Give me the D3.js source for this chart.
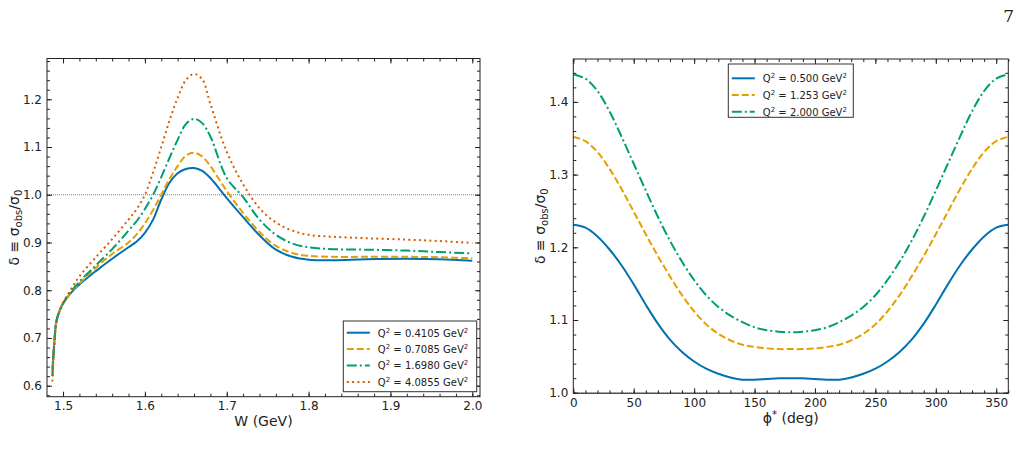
<!DOCTYPE html>
<html>
<head>
<meta charset="utf-8">
<script src="https://cdn.jsdelivr.net/npm/d3@7"></script>
<style>
body { margin: 0; background: #fff; }
text { font-family: "DejaVu Sans", sans-serif; fill: #222; }
</style>
</head>
<body>
<svg width="1021" height="467"></svg>
<script>
// ---- left panel: delta vs W ----
var wGrid = [1.487, 1.489, 1.492, 1.496, 1.50, 1.51, 1.52, 1.54, 1.56, 1.58, 1.59, 1.60, 1.61, 1.62, 1.63, 1.64, 1.65,
    1.66, 1.67, 1.68, 1.70, 1.72, 1.74, 1.76, 1.78, 1.80, 1.83, 1.87, 1.92, 1.96, 2.00];
var deltaQ04105 = [0.635, 0.685, 0.737, 0.758, 0.772, 0.795, 0.812, 0.84, 0.866, 0.89, 0.902, 0.92, 0.948, 0.99, 1.025, 1.045, 1.054,
    1.056, 1.050, 1.035, 0.993, 0.953, 0.915, 0.885, 0.870, 0.864, 0.863, 0.865, 0.866, 0.865, 0.862];
var deltaQ07085 = [0.62, 0.68, 0.735, 0.757, 0.772, 0.796, 0.814, 0.847, 0.876, 0.90, 0.917, 0.94, 0.968, 1.0, 1.033, 1.06, 1.082,
    1.088, 1.08, 1.06, 1.008, 0.962, 0.922, 0.893, 0.878, 0.872, 0.870, 0.870, 0.870, 0.869, 0.867];
var deltaQ16980 = [0.62, 0.68, 0.735, 0.758, 0.773, 0.798, 0.818, 0.852, 0.886, 0.925, 0.945, 0.97, 1.0, 1.037, 1.077, 1.115, 1.148,
    1.159, 1.15, 1.122, 1.035, 0.995, 0.948, 0.916, 0.898, 0.890, 0.886, 0.885, 0.883, 0.880, 0.877];
var deltaQ40855 = [0.609, 0.675, 0.733, 0.758, 0.774, 0.803, 0.829, 0.869, 0.907, 0.948, 0.97, 1.0, 1.047, 1.10, 1.155, 1.203, 1.24,
    1.253, 1.242, 1.19, 1.09, 1.022, 0.972, 0.942, 0.925, 0.916, 0.912, 0.909, 0.906, 0.903, 0.899];
var leftLabels = ["0.4105", "0.7085", "1.6980", "4.0855"];

// ---- right panel: delta vs phi* ----
var phiGrid = [0, 10, 20, 30, 40, 50, 60, 70, 80, 90, 100, 110, 120, 130, 140, 150, 160, 170, 180,
    190, 200, 210, 220, 230, 240, 250, 260, 270, 280, 290, 300, 310, 320, 330, 340, 350, 360];
var deltaQ0500 = [1.231, 1.227, 1.215, 1.197, 1.175, 1.149, 1.121, 1.095, 1.073, 1.056, 1.043, 1.033, 1.026, 1.021,
    1.018, 1.018, 1.019, 1.020, 1.020, 1.020, 1.019, 1.018, 1.018, 1.021, 1.026, 1.033, 1.043, 1.056, 1.073,
    1.095, 1.121, 1.149, 1.175, 1.197, 1.215, 1.227, 1.231];
var deltaQ1253 = [1.352, 1.346, 1.331, 1.308, 1.280, 1.249, 1.218, 1.188, 1.160, 1.134, 1.112, 1.094, 1.081, 1.072,
    1.066, 1.063, 1.061, 1.060, 1.060, 1.060, 1.061, 1.063, 1.066, 1.072, 1.081, 1.094, 1.112, 1.134, 1.160,
    1.188, 1.218, 1.249, 1.280, 1.308, 1.331, 1.346, 1.352];
var deltaQ2000 = [1.438, 1.432, 1.415, 1.387, 1.352, 1.315, 1.278, 1.242, 1.209, 1.180, 1.155, 1.134, 1.118, 1.106,
    1.097, 1.090, 1.086, 1.084, 1.083, 1.084, 1.086, 1.090, 1.097, 1.106, 1.118, 1.134, 1.155, 1.180, 1.209,
    1.242, 1.278, 1.315, 1.352, 1.387, 1.415, 1.432, 1.438];
var rightLabels = ["0.500", "1.253", "2.000"];

var colors = ["#0072B2", "#E69F00", "#009E73", "#D55E00"];
var dashes = [null, "7,3", "10,3,2,3", "2,3.3"];

var svg = d3.select("svg");

// page number
svg.append("text")
    .attr("x", 1014).attr("y", 22)
    .attr("text-anchor", "end")
    .style("font-family", "'DejaVu Serif', 'Liberation Serif', serif")
    .attr("font-size", 17)
    .text("7");

function addTspans(t, parts) {
    parts.forEach(function (p) {
        t.append("tspan")
            .attr("dy", p.dy || 0)
            .attr("font-size", p.fs || null)
            .text(p.t);
    });
}

function drawAxes(g, x, y, opt) {
    var w = x.range()[1], h = y.range()[0];

    function styleAxis(sel) {
        sel.select(".domain").remove();
        sel.selectAll("line").attr("stroke", "#222");
        sel.selectAll("text").attr("font-size", 12).style("fill", "#222")
            .attr("font-family", "DejaVu Sans, sans-serif");
    }

    // major ticks
    g.append("g").attr("transform", "translate(0," + h + ")")
        .call(d3.axisBottom(x).tickValues(opt.xMajor).tickFormat(opt.xFmt)
            .tickSizeInner(-5).tickSizeOuter(0).tickPadding(5))
        .call(styleAxis);
    g.append("g")
        .call(d3.axisTop(x).tickValues(opt.xMajor).tickFormat("").tickSizeInner(-5).tickSizeOuter(0))
        .call(styleAxis);
    g.append("g")
        .call(d3.axisLeft(y).tickValues(opt.yMajor).tickFormat(d3.format(".1f"))
            .tickSizeInner(-5).tickSizeOuter(0).tickPadding(5))
        .call(styleAxis);
    g.append("g").attr("transform", "translate(" + w + ",0)")
        .call(d3.axisRight(y).tickValues(opt.yMajor).tickFormat("").tickSizeInner(-5).tickSizeOuter(0))
        .call(styleAxis);

    // minor ticks
    g.append("g").attr("transform", "translate(0," + h + ")")
        .call(d3.axisBottom(x).tickValues(opt.xMinor).tickFormat("").tickSizeInner(-3).tickSizeOuter(0))
        .call(styleAxis);
    g.append("g")
        .call(d3.axisTop(x).tickValues(opt.xMinor).tickFormat("").tickSizeInner(-3).tickSizeOuter(0))
        .call(styleAxis);
    g.append("g")
        .call(d3.axisLeft(y).tickValues(opt.yMinor).tickFormat("").tickSizeInner(-3).tickSizeOuter(0))
        .call(styleAxis);
    g.append("g").attr("transform", "translate(" + w + ",0)")
        .call(d3.axisRight(y).tickValues(opt.yMinor).tickFormat("").tickSizeInner(-3).tickSizeOuter(0))
        .call(styleAxis);

    g.append("rect")
        .attr("width", w).attr("height", h)
        .attr("fill", "none").attr("stroke", "#222").attr("stroke-width", 1);
}

function drawPanel(opt) {
    var g = svg.append("g").attr("transform", "translate(" + opt.left + "," + opt.top + ")");
    var w = opt.width, h = opt.height;
    var x = d3.scaleLinear().domain(opt.xDomain).range([0, w]);
    var y = d3.scaleLinear().domain(opt.yDomain).range([h, 0]);

    g.append("clipPath").attr("id", opt.id + "-clip")
        .append("rect").attr("width", w).attr("height", h);

    var plot = g.append("g").attr("clip-path", "url(#" + opt.id + "-clip)");

    // reference line at delta = 1
    plot.append("line")
        .attr("x1", 0).attr("x2", w)
        .attr("y1", y(1)).attr("y2", y(1))
        .attr("stroke", "#777").attr("stroke-width", 1)
        .attr("stroke-dasharray", "1,1");

    var line = d3.line()
        .x(function (d) { return x(d[0]); })
        .y(function (d) { return y(d[1]); })
        .curve(d3.curveCatmullRom.alpha(0.5));

    opt.series.forEach(function (s, i) {
        plot.append("path")
            .datum(opt.xs.map(function (v, j) { return [v, s[j]]; }))
            .attr("fill", "none")
            .attr("stroke", colors[i])
            .attr("stroke-width", 2)
            .attr("stroke-dasharray", dashes[i])
            .attr("d", line);
    });

    drawAxes(g, x, y, opt);

    // x label
    var xl = g.append("text")
        .attr("x", w / 2).attr("y", h + 29.5)
        .attr("text-anchor", "middle")
        .attr("font-size", 14);
    addTspans(xl, opt.xLabel);

    // y label
    var yl = g.append("text")
        .attr("transform", "translate(" + opt.yLabelX + "," + (h / 2) + ") rotate(-90)")
        .attr("text-anchor", "middle")
        .attr("font-size", 14);
    addTspans(yl, [
        { t: "δ ≡ σ" }, { t: "obs", dy: 3, fs: 10 }, { t: "/σ", dy: -3 }, { t: "0", dy: 3, fs: 10 }
    ]);

    // legend
    var lg = g.append("g").attr("transform", "translate(" + opt.legend.x + "," + opt.legend.y + ")");
    lg.append("rect")
        .attr("width", opt.legend.w).attr("height", opt.legend.h)
        .attr("fill", "#fff").attr("stroke", "#333").attr("stroke-width", 1);
    opt.legend.labels.forEach(function (lab, i) {
        var ry = opt.legend.first + i * opt.legend.step;
        lg.append("line")
            .attr("x1", 3.5).attr("x2", 26.5)
            .attr("y1", ry).attr("y2", ry)
            .attr("stroke", colors[i]).attr("stroke-width", 2)
            .attr("stroke-dasharray", dashes[i]);
        var t = lg.append("text")
            .attr("x", 34.5).attr("y", ry + 3.8)
            .attr("font-size", 10);
        addTspans(t, [
            { t: "Q" }, { t: "2", dy: -4, fs: 7 }, { t: " = " + lab + " GeV", dy: 4 }, { t: "2", dy: -4, fs: 7 }
        ]);
    });
}

drawPanel({
    id: "left",
    left: 47, top: 58.5, width: 433, height: 338.2,
    xDomain: [1.4804, 2.0094], yDomain: [0.577, 1.2854],
    xs: wGrid,
    series: [deltaQ04105, deltaQ07085, deltaQ16980, deltaQ40855],
    xMajor: [1.5, 1.6, 1.7, 1.8, 1.9, 2.0],
    xMinor: d3.range(75, 101).map(function (i) { return i / 50; }),
    xFmt: d3.format(".1f"),
    yMajor: [0.6, 0.7, 0.8, 0.9, 1.0, 1.1, 1.2],
    yMinor: d3.range(29, 65).map(function (i) { return i / 50; }),
    xLabel: [{ t: "W (GeV)" }],
    yLabelX: -28.5,
    legend: { x: 296.3, y: 262.5, w: 133.4, h: 70.7, first: 11.7, step: 16.4, labels: leftLabels }
});

drawPanel({
    id: "right",
    left: 573.3, top: 59, width: 435, height: 334.3,
    xDomain: [0, 360], yDomain: [0.9992, 1.459],
    xs: phiGrid,
    series: [deltaQ0500, deltaQ1253, deltaQ2000],
    xMajor: [0, 50, 100, 150, 200, 250, 300, 350],
    xMinor: d3.range(0, 361, 10),
    xFmt: d3.format("d"),
    yMajor: [1.0, 1.1, 1.2, 1.3, 1.4],
    yMinor: d3.range(50, 73).map(function (i) { return i / 50; }),
    xLabel: [{ t: "ϕ" }, { t: "*", dy: -5, fs: 10 }, { t: " (deg)", dy: 5 }],
    yLabelX: -28.5,
    legend: { x: 155, y: 5, w: 125, h: 53.3, first: 14.3, step: 16.7, labels: rightLabels }
});
</script>
</body>
</html>
